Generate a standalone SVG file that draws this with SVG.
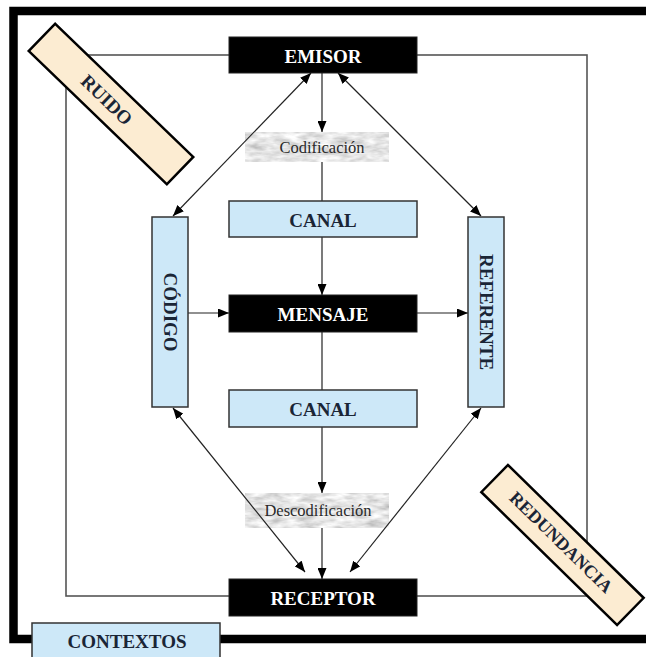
<svg xmlns="http://www.w3.org/2000/svg" width="646" height="657" viewBox="0 0 646 657">
<defs>
<marker id="ah" markerUnits="userSpaceOnUse" markerWidth="11" markerHeight="9" refX="11" refY="4.5" orient="auto-start-reverse" viewBox="0 0 11 9">
<path d="M0,0 L11,4.5 L0,9 z" fill="#000"/>
</marker>
<filter id="tex" x="0" y="0" width="1" height="1">
<feTurbulence type="fractalNoise" baseFrequency="0.06 0.18" numOctaves="3" seed="7" result="n"/>
<feColorMatrix in="n" type="matrix" values="0.8 0 0 0 0.38  0.8 0 0 0 0.38  0.8 0 0 0 0.38  0 0 0 0 1" result="g"/>
<feComposite in="g" in2="SourceGraphic" operator="in"/>
</filter>
</defs>
<style>
.t{font-family:"Liberation Serif","Times New Roman",serif;text-anchor:middle;dominant-baseline:central}
.big{font-size:19px;font-weight:bold}
.blk{fill:#000;stroke:#222;stroke-width:1}
.wt{fill:#fff}
.blue{fill:#cde8f8;stroke:#333;stroke-width:1.5}
.dk{fill:#1a2536}
.cream{fill:#fcecd2;stroke:#000;stroke-width:2.5}
.small{font-size:16.5px;fill:#2a2a2a}
.c{stroke:#222;stroke-width:1.2;fill:none}
</style>
<rect width="646" height="657" fill="#fff"/>
<g id="frame">
<path d="M646,11 H13.5 V639 H646" fill="none" stroke="#000" stroke-width="8.5"/>
<rect x="66" y="55" width="521" height="541" fill="none" stroke="#555" stroke-width="1.6"/>
</g>
<g id="codificacion">
<rect x="245" y="132" width="144" height="30" fill="#ccc" filter="url(#tex)"/>
<text class="t small" x="322" y="147">Codificación</text>
</g>
<g id="descodificacion">
<rect x="245" y="493" width="144" height="35" fill="#ccc" filter="url(#tex)"/>
<text class="t small" x="318" y="510">Descodificación</text>
</g>
<g id="connectors">
<line class="c" x1="322" y1="73" x2="322" y2="132" marker-end="url(#ah)"/>
<line class="c" x1="322" y1="162" x2="322" y2="201"/>
<line class="c" x1="322" y1="237" x2="322" y2="295" marker-end="url(#ah)"/>
<line class="c" x1="322" y1="332" x2="322" y2="390"/>
<line class="c" x1="322" y1="427" x2="322" y2="493" marker-end="url(#ah)"/>
<line class="c" x1="322" y1="528" x2="322" y2="579" marker-end="url(#ah)"/>
<line class="c" x1="188" y1="313" x2="229" y2="313" marker-end="url(#ah)"/>
<line class="c" x1="417" y1="313" x2="468" y2="313" marker-end="url(#ah)"/>
<line class="c" x1="173" y1="216" x2="311" y2="73" marker-start="url(#ah)" marker-end="url(#ah)"/>
<line class="c" x1="481" y1="216" x2="338" y2="73" marker-start="url(#ah)" marker-end="url(#ah)"/>
<line class="c" x1="173" y1="408" x2="305" y2="572" marker-start="url(#ah)" marker-end="url(#ah)"/>
<line class="c" x1="481" y1="408" x2="350" y2="572" marker-start="url(#ah)" marker-end="url(#ah)"/>
</g>
<g id="emisor">
<rect class="blk" x="229" y="37" width="188" height="36"/>
<text class="t big wt" x="323" y="56">EMISOR</text>
</g>
<g id="canal1">
<rect class="blue" x="229" y="201" width="188" height="36"/>
<text class="t big dk" x="323" y="220">CANAL</text>
</g>
<g id="mensaje">
<rect class="blk" x="229" y="295" width="188" height="37"/>
<text class="t big wt" x="323" y="314">MENSAJE</text>
</g>
<g id="canal2">
<rect class="blue" x="229" y="390" width="188" height="37"/>
<text class="t big dk" x="323" y="409">CANAL</text>
</g>
<g id="receptor">
<rect class="blk" x="229" y="579" width="188" height="37"/>
<text class="t big wt" x="323" y="598">RECEPTOR</text>
</g>
<g id="codigo">
<rect class="blue" x="152" y="217" width="36" height="190"/>
<text class="t big dk" x="170" y="312" transform="rotate(90 170 312)">CÓDIGO</text>
</g>
<g id="referente">
<rect class="blue" x="468" y="217" width="36" height="190"/>
<text class="t big dk" x="486" y="312" transform="rotate(90 486 312)">REFERENTE</text>
</g>
<g id="ruido" transform="translate(111 104) rotate(44)">
<rect class="cream" x="-96" y="-19" width="192" height="38"/>
<text class="t big dk" x="-6" y="0">RUIDO</text>
</g>
<g id="redundancia" transform="translate(562.5 545) rotate(44.4)">
<rect class="cream" x="-95" y="-19" width="190" height="38"/>
<text class="t big dk" x="-3" y="-1" style="font-size:18px">REDUNDANCIA</text>
</g>
<g id="contextos">
<rect class="blue" x="32" y="623" width="188" height="40"/>
<text class="t big dk" x="127" y="641">CONTEXTOS</text>
</g>
</svg>
